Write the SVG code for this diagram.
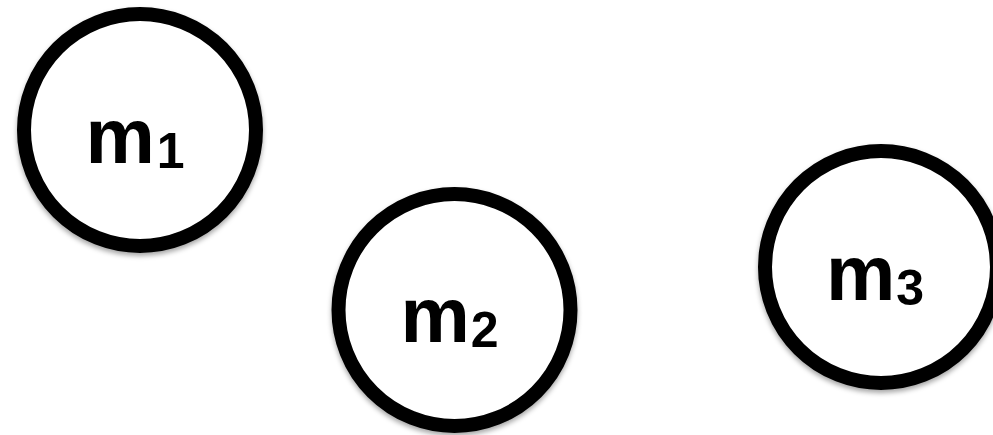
<svg xmlns="http://www.w3.org/2000/svg" width="993" height="435" viewBox="0 0 993 435">
  <defs>
    <filter id="shadow" x="-20%" y="-20%" width="140%" height="140%">
      <feDropShadow dx="0" dy="3" stdDeviation="2.5" flood-color="#000" flood-opacity="0.35"/>
    </filter>
  </defs>
  <style>
    .node circle { fill: #fff; stroke: #000; stroke-width: 14; filter: url(#shadow); }
    .lbl { font-family: "Liberation Sans", Arial, sans-serif; font-weight: bold; font-size: 78px; fill: #000; }
    .sub { font-size: 50px; }
  </style>
  <rect width="993" height="435" fill="#fff"/>
  <g id="connectors"></g>
  <g id="m1" class="node">
    <circle cx="140" cy="130" r="116"/>
    <text class="lbl" x="85.5" y="163">m<tspan class="sub" dx="2" dy="5">1</tspan></text>
  </g>
  <g id="m2" class="node">
    <circle cx="454.5" cy="310" r="116"/>
    <text class="lbl" x="400.5" y="342">m<tspan class="sub" dx="1" dy="5">2</tspan></text>
  </g>
  <g id="m3" class="node">
    <circle cx="881" cy="267" r="116"/>
    <text class="lbl" x="826" y="300">m<tspan class="sub" dx="1" dy="5">3</tspan></text>
  </g>
</svg>
